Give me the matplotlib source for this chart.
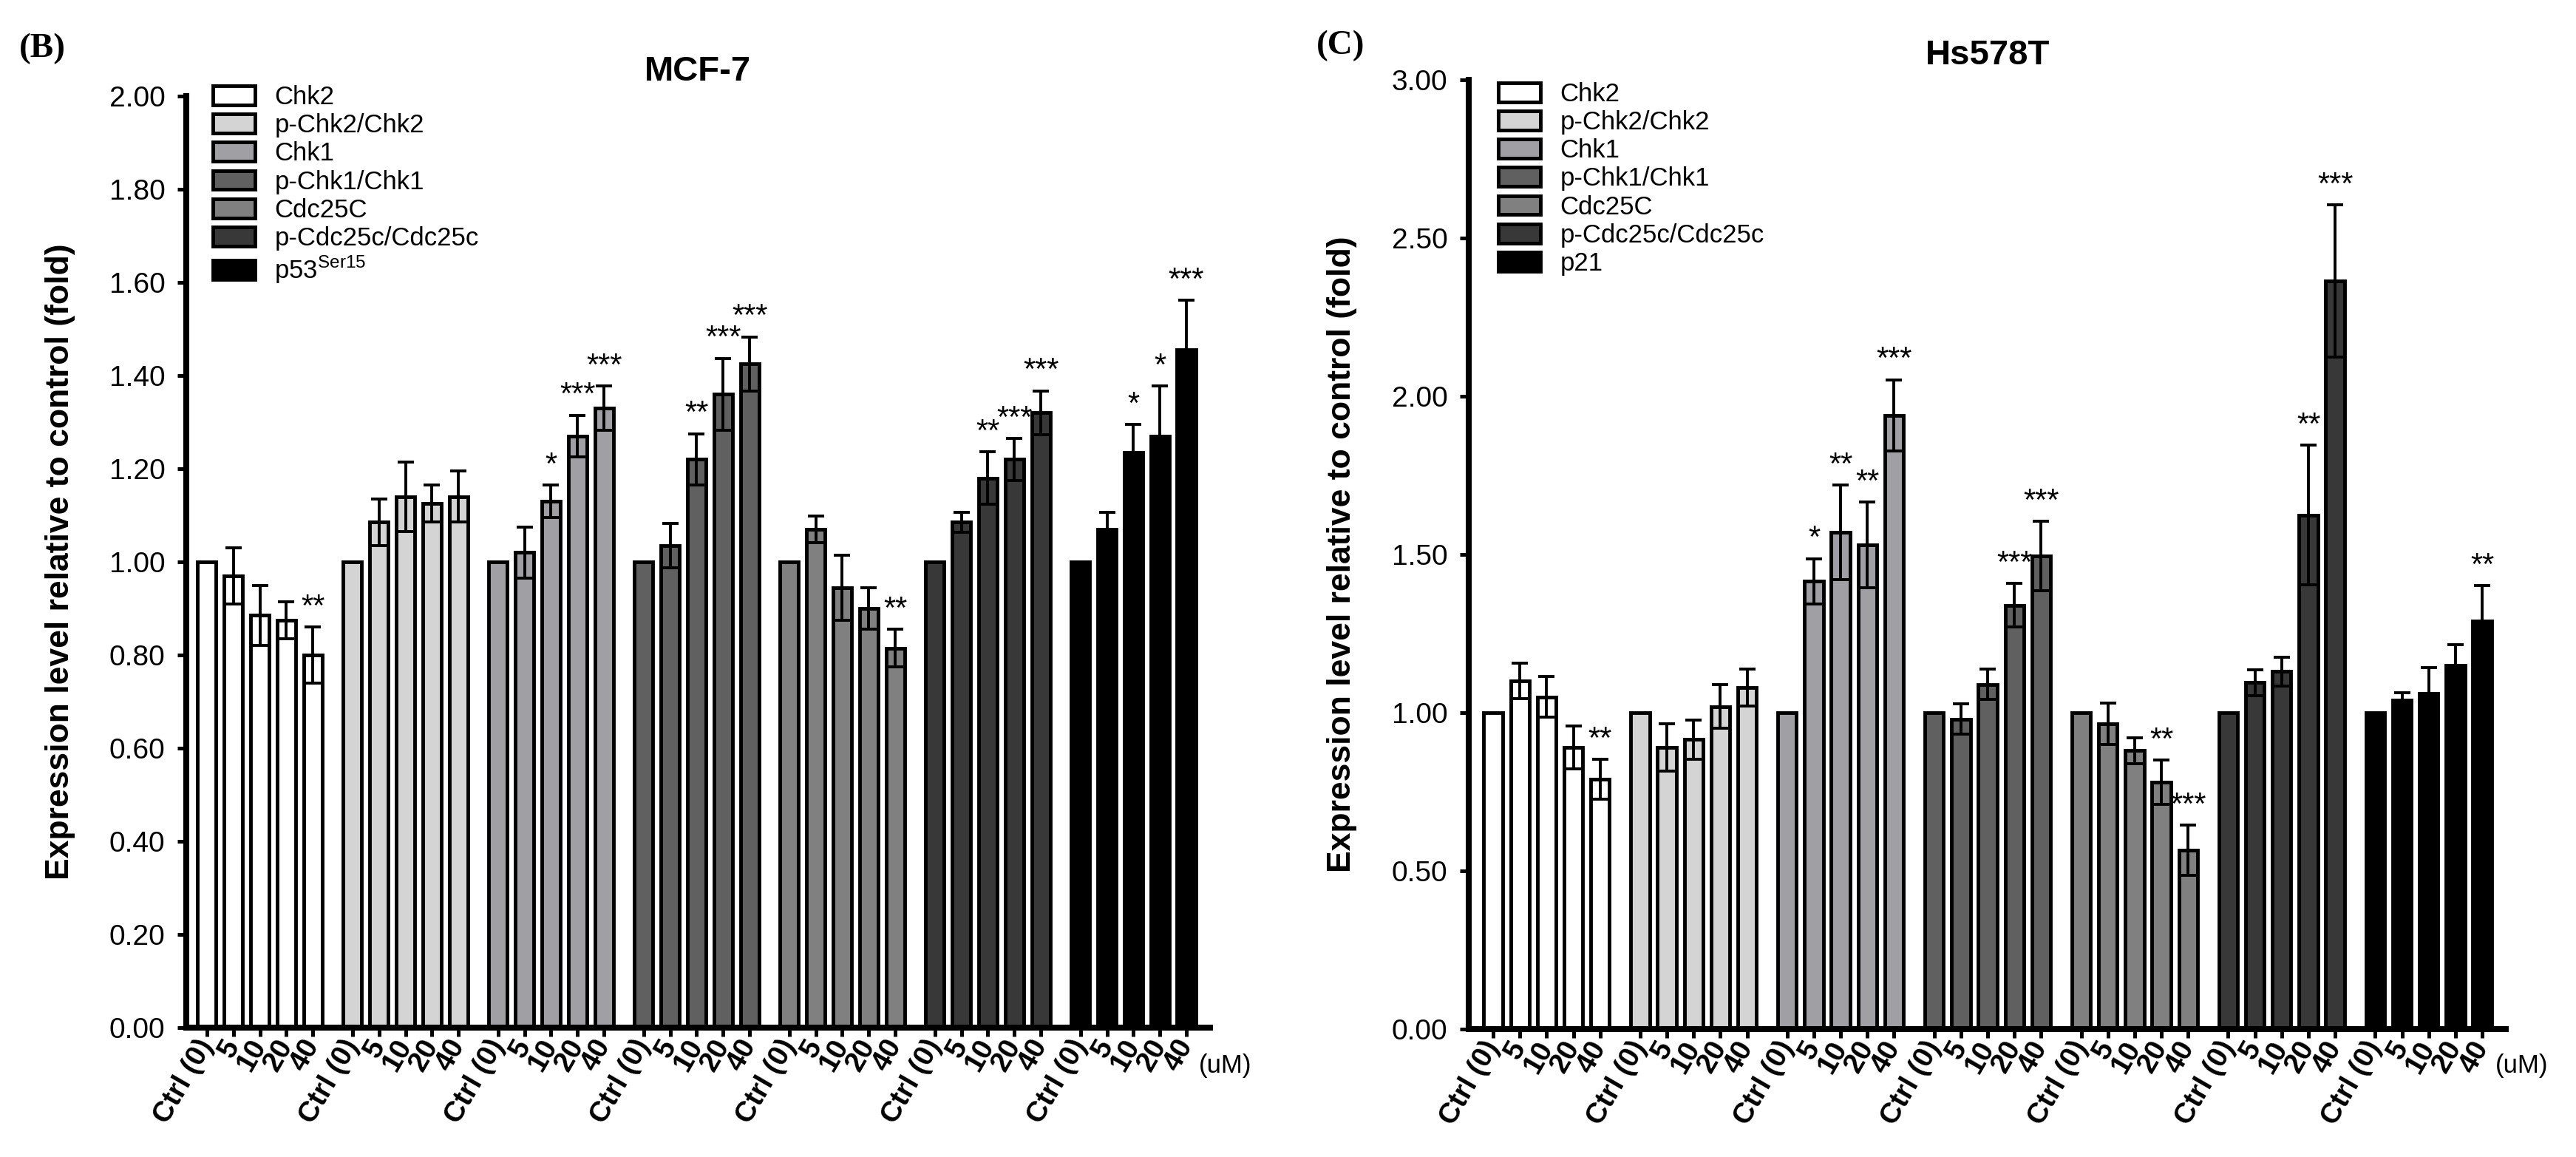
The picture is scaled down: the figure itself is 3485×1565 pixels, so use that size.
import numpy as np
import matplotlib
matplotlib.use('Agg')
import matplotlib.pyplot as plt

plt.rcParams['font.family'] = ['Liberation Sans', 'DejaVu Sans']
plt.rcParams['mathtext.fontset'] = 'custom'
plt.rcParams['mathtext.rm'] = 'Liberation Sans'

doses = ['Ctrl (0)', '5', '10', '20', '40']
colors = ['#ffffff', '#d4d4d4', '#a0a0a4', '#606060', '#808080', '#383838', '#000000']

mcf7_labels = ['Chk2', 'p-Chk2/Chk2', 'Chk1', 'p-Chk1/Chk1', 'Cdc25C',
               'p-Cdc25c/Cdc25c', 'p53$^{\\rm Ser15}$']
mcf7_mean = [
    [1.00, 0.97, 0.885, 0.875, 0.80],
    [1.00, 1.085, 1.14, 1.125, 1.14],
    [1.00, 1.02, 1.13, 1.27, 1.33],
    [1.00, 1.035, 1.22, 1.36, 1.425],
    [1.00, 1.07, 0.945, 0.90, 0.815],
    [1.00, 1.085, 1.18, 1.22, 1.32],
    [1.00, 1.07, 1.235, 1.27, 1.455],
]
mcf7_err = [
    [0, 0.06, 0.065, 0.04, 0.06],
    [0, 0.05, 0.075, 0.04, 0.055],
    [0, 0.055, 0.035, 0.045, 0.048],
    [0, 0.048, 0.055, 0.077, 0.058],
    [0, 0.028, 0.07, 0.045, 0.04],
    [0, 0.022, 0.056, 0.045, 0.047],
    [0, 0.036, 0.06, 0.108, 0.107],
]
mcf7_sig = [
    ['', '', '', '', '**'],
    ['', '', '', '', ''],
    ['', '', '*', '***', '***'],
    ['', '', '**', '***', '***'],
    ['', '', '', '', '**'],
    ['', '', '**', '***', '***'],
    ['', '', '*', '*', '***'],
]

hs_labels = ['Chk2', 'p-Chk2/Chk2', 'Chk1', 'p-Chk1/Chk1', 'Cdc25C',
             'p-Cdc25c/Cdc25c', 'p21']
hs_mean = [
    [1.00, 1.10, 1.05, 0.89, 0.79],
    [1.00, 0.89, 0.915, 1.02, 1.08],
    [1.00, 1.415, 1.57, 1.53, 1.94],
    [1.00, 0.98, 1.09, 1.34, 1.495],
    [1.00, 0.965, 0.88, 0.78, 0.565],
    [1.00, 1.095, 1.13, 1.625, 2.365],
    [1.00, 1.04, 1.06, 1.15, 1.29],
]
hs_err = [
    [0, 0.056, 0.064, 0.067, 0.063],
    [0, 0.074, 0.062, 0.068, 0.058],
    [0, 0.072, 0.15, 0.135, 0.112],
    [0, 0.048, 0.048, 0.068, 0.11],
    [0, 0.065, 0.04, 0.07, 0.08],
    [0, 0.04, 0.045, 0.22, 0.24],
    [0, 0.024, 0.083, 0.065, 0.112],
]
hs_sig = [
    ['', '', '', '', '**'],
    ['', '', '', '', ''],
    ['', '*', '**', '**', '***'],
    ['', '', '', '***', '***'],
    ['', '', '', '**', '***'],
    ['', '', '', '**', '***'],
    ['', '', '', '', '**'],
]


def draw_panel(ax, means, errs, sigs, labels, title, yticks, xleft, leg_anchor):
    ticks = []
    for g in range(len(means)):
        xs = g * 5.5 + np.arange(len(doses))
        m = np.array(means[g])
        e = np.array(errs[g])
        ax.bar(xs, m, width=0.7, color=colors[g], edgecolor='black',
               linewidth=3.5, zorder=2, label=labels[g])
        k = e > 0
        ax.errorbar(xs[k], m[k], yerr=e[k], fmt='none', ecolor='black',
                    elinewidth=2.8, capsize=8, capthick=2.8, zorder=3)
        for x, v, d, s in zip(xs, m, e, sigs[g]):
            if s:
                ax.annotate(s, (x, v + d), xytext=(0, 19), textcoords='offset points',
                            ha='center', va='center', fontsize=30)
        ticks.extend(xs)

    ax.set_xlim(xleft, 37.89)
    ax.set_ylim(yticks[0], yticks[-1])
    ax.set_yticks(yticks)
    ax.set_yticklabels(['%.2f' % t for t in yticks], fontsize=28)
    ax.set_xticks(ticks)
    ax.set_xticklabels(doses * len(means), fontsize=28, fontweight='bold',
                       rotation=60, ha='right', va='center', rotation_mode='anchor')
    ax.tick_params(axis='both', direction='out', length=8.6, width=3.6)
    ax.tick_params(axis='y', pad=12)
    ax.tick_params(axis='x', pad=5)
    for side in ['top', 'right']:
        ax.spines[side].set_visible(False)
    for side in ['left', 'bottom']:
        ax.spines[side].set_linewidth(5.8)
    ax.set_title(title, fontsize=34, fontweight='bold', pad=15)
    ax.set_ylabel('Expression level relative to control (fold)', fontsize=32,
                  fontweight='bold')
    ax.yaxis.set_label_coords(-0.108, 0.5)
    ax.legend(loc='upper left', bbox_to_anchor=leg_anchor, frameon=False,
              fontsize=25, borderpad=0, borderaxespad=0, handlelength=1.65,
              handleheight=0.77, handletextpad=0.75, labelspacing=0.15)


fig = plt.figure(figsize=(34.85, 15.65), dpi=100)
ax1 = fig.add_axes([0.0723, 0.1118, 0.3974, 0.8051])
ax2 = fig.add_axes([0.5702, 0.1105, 0.4026, 0.8204])

draw_panel(ax1, mcf7_mean, mcf7_err, mcf7_sig, mcf7_labels, 'MCF-7',
           np.arange(0, 2.01, 0.2), -0.78, (0.026, 1.012))
draw_panel(ax2, hs_mean, hs_err, hs_sig, hs_labels, 'Hs578T',
           np.arange(0, 3.01, 0.5), -0.91, (0.0285, 0.998))

fig.text(26 / 3485, 1 - 66 / 1565, '(B)', family='Liberation Serif',
         fontweight='bold', fontsize=34, va='center', ha='left')
fig.text(1781 / 3485, 1 - 62 / 1565, '(C)', family='Liberation Serif',
         fontweight='bold', fontsize=34, va='center', ha='left')
fig.text(1622 / 3485, 1 - 1441 / 1565, '(uM)', fontsize=25, va='center')
fig.text(3376 / 3485, 1 - 1441 / 1565, '(uM)', fontsize=25, va='center')

fig.savefig('out.png', dpi=100)
